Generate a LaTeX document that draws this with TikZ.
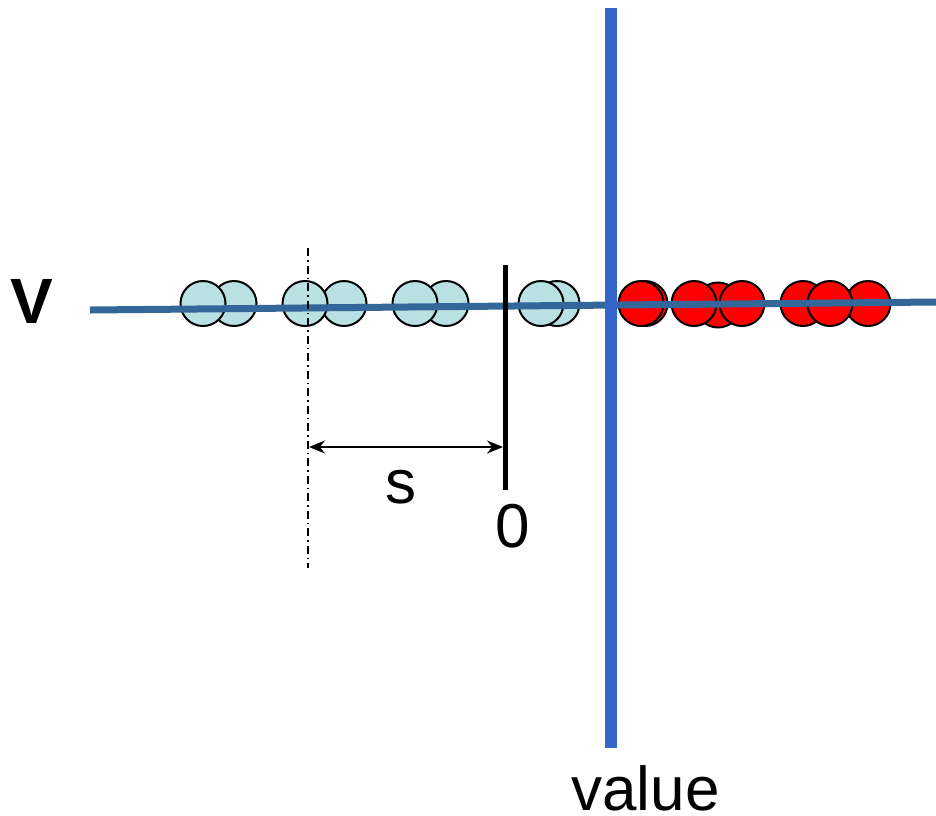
\documentclass[tikz,border=0pt]{standalone}
\usepackage{fontspec}
\setmainfont{Liberation Sans}
\usetikzlibrary{arrows.meta, positioning}
\definecolor{axisblue}{HTML}{336699}
\definecolor{valueblue}{HTML}{3366CC}
\definecolor{pale}{HTML}{B9E0E2}
\definecolor{hot}{HTML}{FF0000}

\begin{document}
\begin{tikzpicture}[x=1pt, y=-1pt,
    ball/.style={circle, draw=black, line width=2pt, minimum size=45pt, inner sep=0pt},
    cold/.style={ball, fill=pale},
    warm/.style={ball, fill=hot},
    label/.style={inner sep=0pt, font=\fontsize{62}{70}\selectfont},
]
\useasboundingbox (0,0) rectangle (936,815);

% cold samples (back one first)
\foreach \x/\n in {234/a, 203/b, 344/c, 305/d, 446/e, 415/f, 557/g, 541/h}
    \node[cold] (c\n) at (\x,303.5) {};

% warm samples
\foreach \x/\y/\n in {645/303.5/a, 641/303.5/b, 718/305/c, 694/303.5/d, 742/303.5/e, 803/303.5/f, 868/303.5/g, 830/303.5/h}
    \node[warm] (w\n) at (\x,\y) {};

% axis
\coordinate (axL) at (90,310);
\coordinate (axR) at (936,302);
\draw[axisblue, line width=7pt] (axL) -- (axR);

% threshold and shift
\coordinate (zT) at (505,265);
\coordinate (zB) at (505,490);
\draw[line width=5pt] (zT) -- (zB);
\coordinate (sT) at (308,248);
\coordinate (sB) at (308,568);
\draw[line width=1.5pt, dash pattern=on 8pt off 4pt on 1.5pt off 4pt] (sT) -- (sB);
\coordinate (sA) at (309,447);
\coordinate (sZ) at (503,447);
\draw[line width=2pt, {Stealth[length=16pt, width=13pt]}-{Stealth[length=16pt, width=13pt]}] (sA) -- (sZ);

% value line
\coordinate (vT) at (611,8);
\coordinate (vB) at (611,748);
\draw[valueblue, line width=12pt] (vT) -- (vB);

% labels
\node[label, font=\fontsize{64}{70}\selectfont\bfseries] (V) at (32,301) {V};
\node[label] (s) at (401,487) {s};
\node[label] (zero) at (512.5,526.5) {0};
\node[label, anchor=base] (value) at (645.5,810) {value};
\end{tikzpicture}
\end{document}
